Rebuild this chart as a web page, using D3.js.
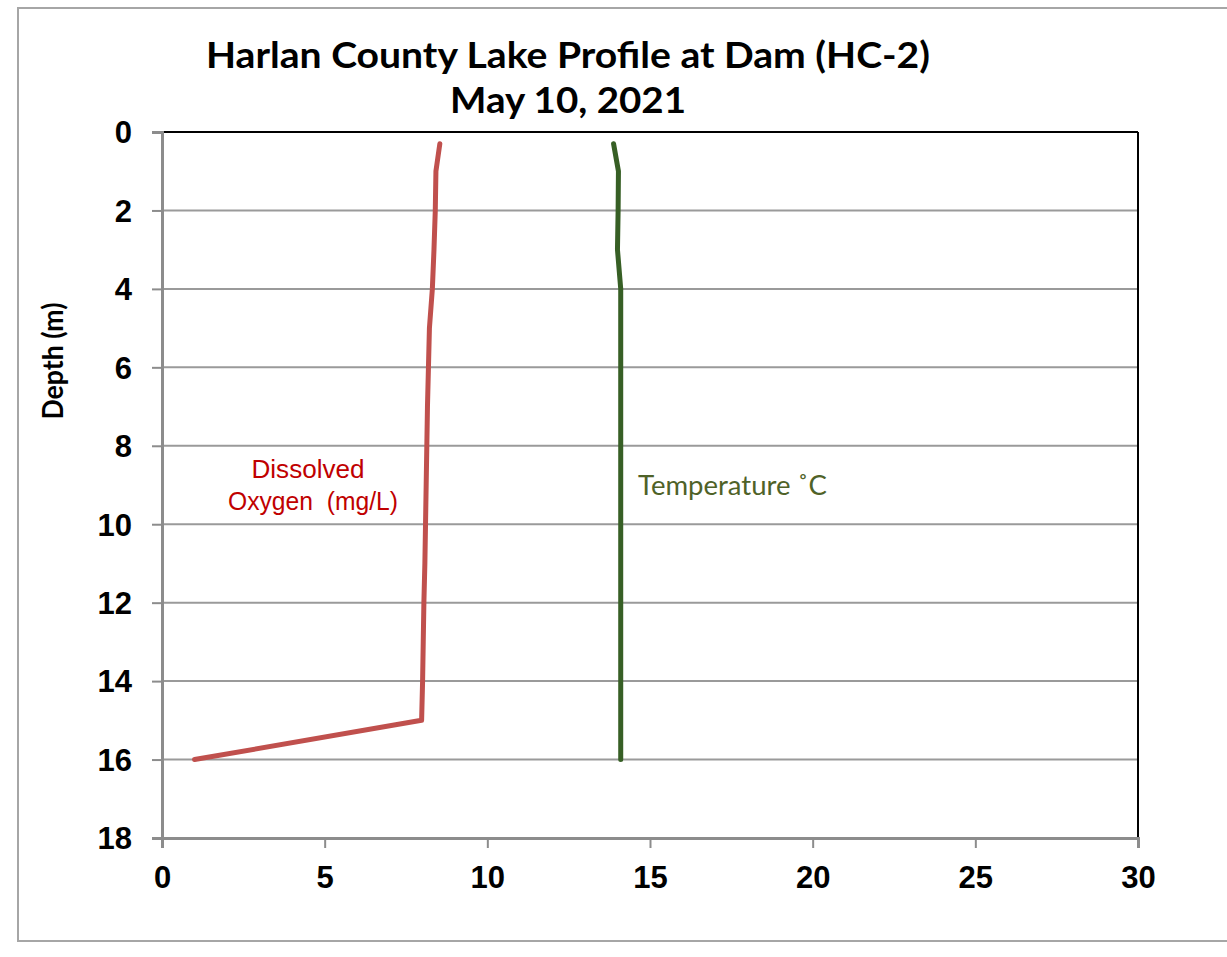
<!DOCTYPE html>
<html><head><meta charset="utf-8">
<script src="https://cdn.jsdelivr.net/npm/d3@7"></script>
<style>body{margin:0;background:#fff}svg{display:block}</style>
</head><body>
<script>
const titleLines = ["Harlan County Lake Profile at Dam (HC-2)", "May 10, 2021"];
const depths = [0.3, 1, 2, 3, 4, 5, 6, 7, 8, 9, 10, 11, 12, 13, 14, 15, 16];
const oxygen = [8.54, 8.42, 8.40, 8.36, 8.31, 8.22, 8.19, 8.16, 8.14, 8.12, 8.10, 8.08, 8.05, 8.03, 8.01, 7.98, 1.0];
const temperature = [13.88, 14.03, 14.02, 14.0, 14.1, 14.1, 14.1, 14.1, 14.1, 14.1, 14.1, 14.1, 14.1, 14.1, 14.1, 14.1, 14.1];
const xTicks = [0, 5, 10, 15, 20, 25, 30];
const yTicks = [0, 2, 4, 6, 8, 10, 12, 14, 16, 18];

const W = 1227, H = 957;
const svg = d3.select("body").append("svg").attr("width", W).attr("height", H);
svg.append("rect").attr("x", 18).attr("y", 8).attr("width", 1230).attr("height", 933)
  .attr("fill", "#fff").attr("stroke", "#a6a6a6").attr("stroke-width", 2);

const L = 162, R = 1138, T = 132, B = 838;
const x = d3.scaleLinear().domain([0, 30]).range([L, R]);
const y = d3.scaleLinear().domain([0, 18]).range([T, B]);

// gridlines
svg.append("g").selectAll("line").data(yTicks.filter(d => d > 0 && d < 18)).join("line")
  .attr("x1", L).attr("x2", R).attr("y1", d => y(d)).attr("y2", d => y(d))
  .attr("stroke", "#9a9a9a").attr("stroke-width", 2);

// top and right borders
svg.append("line").attr("x1", L).attr("x2", R).attr("y1", T).attr("y2", T).attr("stroke", "#000").attr("stroke-width", 2);
svg.append("line").attr("x1", R).attr("x2", R).attr("y1", T).attr("y2", B).attr("stroke", "#000").attr("stroke-width", 2);

// axes
const yAxis = d3.axisLeft(y).tickValues(yTicks).tickSize(10).tickPadding(20);
const gy = svg.append("g").attr("transform", `translate(${L},0)`).call(yAxis);
const xAxis = d3.axisBottom(x).tickValues(xTicks).tickSize(10).tickPadding(18);
const gx = svg.append("g").attr("transform", `translate(0,${B})`).call(xAxis);
[gx, gy].forEach(g => {
  g.select(".domain").attr("stroke", "#8c8c8c").attr("stroke-width", 3);
  g.selectAll(".tick line").attr("stroke", "#8c8c8c").attr("stroke-width", 2);
  g.selectAll("text").attr("font-family", "Liberation Sans, Arial, sans-serif")
    .attr("font-weight", "bold").attr("font-size", 31).attr("fill", "#000");
});
gy.selectAll(".tick text").attr("dy", "0.35em");

// axis title
svg.append("text").attr("transform", `translate(63,361) rotate(-90)`)
  .attr("text-anchor", "middle").attr("font-family", "Lato, sans-serif")
  .attr("font-weight", "bold").attr("font-size", 28)
  .attr("textLength", 117).attr("lengthAdjust", "spacingAndGlyphs").text("Depth (m)");

// title
svg.append("text").attr("x", 568).attr("y", 68).attr("text-anchor", "middle")
  .attr("font-family", "Lato, sans-serif").attr("font-weight", "bold").attr("font-size", 36)
  .attr("textLength", 724).attr("lengthAdjust", "spacingAndGlyphs").text(titleLines[0]);
svg.append("text").attr("x", 568).attr("y", 113).attr("text-anchor", "middle")
  .attr("font-family", "Lato, sans-serif").attr("font-weight", "bold").attr("font-size", 36)
  .attr("textLength", 236).attr("lengthAdjust", "spacingAndGlyphs").text(titleLines[1]);

// lines
const lineO = d3.line().x((d, i) => x(oxygen[i])).y(d => y(d));
const lineT = d3.line().x((d, i) => x(temperature[i])).y(d => y(d));
svg.append("path").attr("d", lineO(depths)).attr("fill", "none").attr("stroke", "#c0504d")
  .attr("stroke-width", 5).attr("stroke-linejoin", "round").attr("stroke-linecap", "round");
svg.append("path").attr("d", lineT(depths)).attr("fill", "none").attr("stroke", "#375f25")
  .attr("stroke-width", 5).attr("stroke-linejoin", "round").attr("stroke-linecap", "round");

// annotations
svg.append("text").attr("x", 308).attr("y", 478).attr("text-anchor", "middle")
  .attr("font-family", "Liberation Sans, Arial, sans-serif").attr("font-size", 25).attr("fill", "#c00000")
  .attr("textLength", 113).attr("lengthAdjust", "spacingAndGlyphs").text("Dissolved");
svg.append("text").attr("x", 313).attr("y", 510).attr("text-anchor", "middle")
  .attr("font-family", "Liberation Sans, Arial, sans-serif").attr("font-size", 25).attr("fill", "#c00000")
  .attr("xml:space", "preserve").style("white-space", "pre")
  .attr("textLength", 170).attr("lengthAdjust", "spacingAndGlyphs").text("Oxygen  (mg/L)");
svg.append("text").attr("x", 638).attr("y", 495)
  .attr("font-family", "Lato, sans-serif").attr("font-size", 27).attr("fill", "#4f6228")
  .attr("textLength", 189).attr("lengthAdjust", "spacingAndGlyphs").text("Temperature ˚C");
</script>
</body></html>
